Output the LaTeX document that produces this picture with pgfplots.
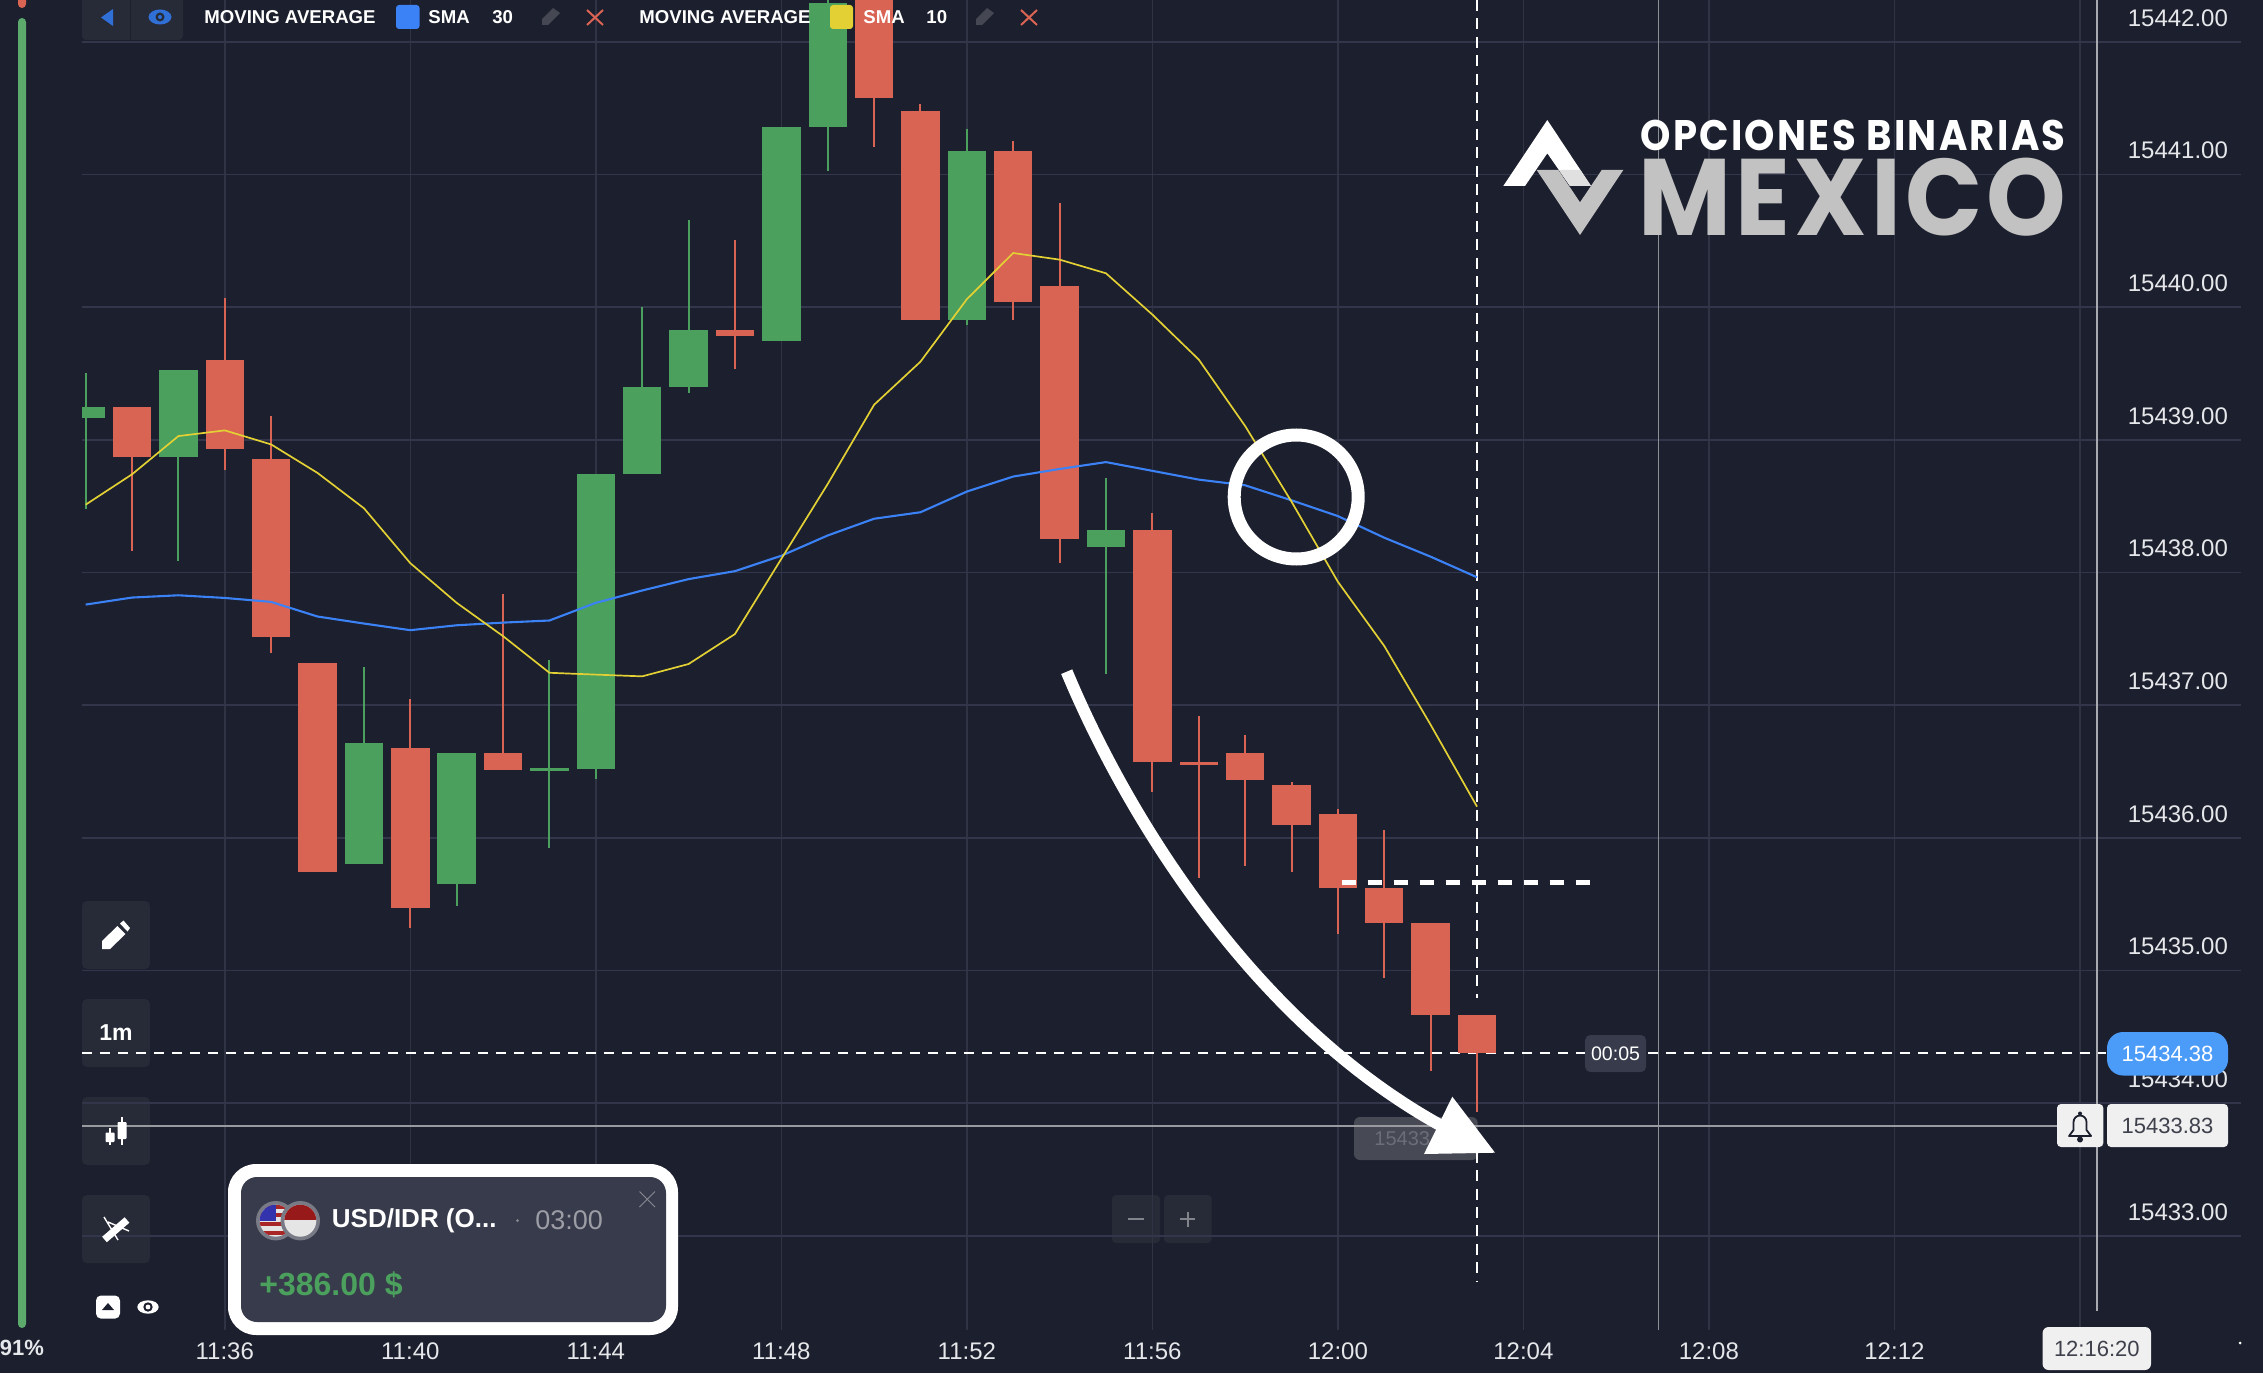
\documentclass[border=0pt]{standalone}
\usepackage{pgfplots}
\pgfplotsset{compat=1.18}
\usepackage{pgfplotstable}
\usepackage{graphicx}
\usepackage{fontspec}
\setmainfont{Liberation Sans}
\newfontfamily\logofont{Poppins}
\definecolor{bg}{HTML}{1C1F2D}
\definecolor{gridh}{HTML}{33364A}
\definecolor{gridv}{HTML}{303344}
\definecolor{btn}{HTML}{272A37}
\definecolor{cred}{HTML}{DA6453}
\definecolor{cgreen}{HTML}{4AA05C}
\definecolor{sblue}{HTML}{3B82F6}
\definecolor{syellow}{HTML}{E2D035}
\definecolor{lblue}{HTML}{4B9BF8}
\definecolor{dblue}{HTML}{2F6FD6}
\definecolor{plate}{HTML}{F0F0F0}
\definecolor{popup}{HTML}{383B4B}
\definecolor{tickc}{HTML}{E6E7EA}
\newcommand{\fs}[1]{\fontsize{#1}{#1}\selectfont}
% columns: minute, body top, body bottom, high, low
\pgfplotstableread{
x top bot high low
694 15439.247 15438.866 15439.247 15438.159
696 15439.605 15438.929 15440.066 15438.769
697 15438.856 15437.509 15439.181 15437.390
698 15437.317 15435.739 15437.317 15435.739
700 15436.678 15435.470 15437.046 15435.316
702 15436.636 15436.508 15437.837 15436.508
707 15439.828 15439.784 15440.507 15439.529
710 15442.600 15441.579 15442.600 15441.207
711 15441.479 15439.900 15441.529 15439.900
713 15441.177 15440.040 15441.250 15439.900
714 15440.156 15438.249 15440.786 15438.066
716 15438.318 15436.570 15438.451 15436.347
717 15436.575 15436.550 15436.918 15435.697
718 15436.636 15436.435 15436.777 15435.789
719 15436.399 15436.097 15436.420 15435.739
720 15436.176 15435.618 15436.219 15435.276
721 15435.618 15435.359 15436.058 15434.942
722 15435.359 15434.666 15435.359 15434.246
723 15434.666 15434.380 15434.666 15433.930
}\redtbl
\pgfplotstableread{
x top bot high low
693 15439.247 15439.161 15439.506 15438.478
695 15439.526 15438.866 15439.526 15438.090
699 15436.718 15435.798 15437.287 15435.798
701 15436.636 15435.651 15436.636 15435.483
703 15436.525 15436.505 15437.340 15435.920
704 15438.740 15436.517 15438.740 15436.439
705 15439.400 15438.740 15440.000 15438.740
706 15439.828 15439.400 15440.657 15439.350
708 15441.357 15439.748 15441.357 15439.748
709 15442.289 15441.357 15442.500 15441.028
712 15441.177 15439.900 15441.340 15439.867
715 15438.318 15438.189 15438.716 15437.231
}\greentbl
\pgfplotstableread{
x y
693 15437.758
694 15437.811
695 15437.828
696 15437.808
697 15437.778
698 15437.668
699 15437.615
700 15437.565
701 15437.602
702 15437.622
703 15437.638
704 15437.771
705 15437.864
706 15437.950
707 15438.010
708 15438.126
709 15438.279
710 15438.405
711 15438.454
712 15438.610
713 15438.723
714 15438.780
715 15438.832
716 15438.766
717 15438.700
718 15438.657
719 15438.544
720 15438.425
721 15438.262
722 15438.119
723 15437.964
}\smathirty
\pgfplotstableread{
x y
693 15438.511
694 15438.740
695 15439.028
696 15439.071
697 15438.965
698 15438.750
699 15438.484
700 15438.070
701 15437.771
702 15437.520
703 15437.244
704 15437.230
705 15437.217
706 15437.310
707 15437.536
708 15438.103
709 15438.667
710 15439.264
711 15439.589
712 15440.060
713 15440.408
714 15440.358
715 15440.255
716 15439.944
717 15439.605
718 15439.104
719 15438.534
720 15437.930
721 15437.446
722 15436.852
723 15436.235
}\smaten
\begin{document}
\begin{tikzpicture}
\path[use as bounding box] (0,0) rectangle (1131.5pt,686.5pt);
\fill[bg] (0,0) rectangle (1131.5pt,686.5pt);
% panels that the grid shows through
\begin{scope}[shift={(0pt,686.5pt)},x=.5pt,y=-.5pt]
\fill[btn,rounded corners=2pt] (82,-6) rectangle (183,40);
\draw[bg,line width=.4pt] (130.5,0) -- (130.5,40);
\foreach \a/\b in {901/969,999/1067,1097/1165,1195/1263}
  \fill[btn,rounded corners=2.5pt] (82,\a) rectangle (150,\b);
\fill[btn,rounded corners=2pt] (1112,1195) rectangle (1160,1243);
\fill[btn,rounded corners=2pt] (1164,1195) rectangle (1211.7,1243);
\fill[btn!85!white,rounded corners=3pt] (1354,1117) rectangle (1477.7,1160);
\end{scope}
\begin{axis}[
  at={(41pt,21.5pt)},anchor=south west,
  scale only axis,width=1079.65pt,height=665pt,
  xmin=692.921,xmax=739.48,ymin=15432.29,ymax=15442.315,
  axis line style={draw=none},major tick length=0pt,
  xtick={696,700,704,708,712,716,720,724,728,732,736},
  xticklabels={11:36,11:40,11:44,11:48,11:52,11:56,12:00,12:04,12:08,12:12,{}},
  ytick={15433,15434,15435,15436,15437,15438,15439,15440,15441,15442},
  yticklabels={15433.00,15434.00,15435.00,15436.00,15437.00,15438.00,15439.00,15440.00,15441.00,15442.00},
  yticklabel pos=right,
  xticklabel style={anchor=center,yshift=-10.5pt,font=\fs{12},text=tickc},
  yticklabel style={anchor=east,inner sep=0pt,xshift=-6.5pt,yshift=12pt,font=\fs{12},text=tickc},
  grid=major,
  x grid style={gridv,line width=.7pt},
  y grid style={gridh,line width=.9pt},
]
% time and price guides
\addplot[white!50!bg,line width=.6pt,forget plot] coordinates {(726.92,15432.29)(726.92,15442.315)};
\addplot[white!62!bg,line width=.9pt,forget plot] coordinates {(736.36,15432.436)(736.36,15442.315)};
\addplot[white!55!bg,line width=.8pt,forget plot] coordinates {(692.921,15433.83)(735.5,15433.83)};
\addplot[white,line width=.9pt,dash pattern=on 5pt off 4pt,forget plot] coordinates {(692.921,15434.38)(736.57,15434.38)};
\addplot[white,line width=1pt,dash pattern=on 5.5pt off 3.7pt,forget plot] coordinates {(723,15442.315)(723,15434.79)};
\addplot[white,line width=1pt,dash pattern=on 5.5pt off 3.7pt,forget plot] coordinates {(723,15433.634)(723,15432.649)};
% candles: wicks, then bodies
\addplot[draw=none,mark=none,forget plot,error bars/.cd,y dir=both,y explicit,error mark=none,error bar style={cgreen,line width=1pt}]
  table[x=x,y=top,y error plus expr=\thisrow{high}-\thisrow{top},y error minus expr=\thisrow{top}-\thisrow{low}] {\greentbl};
\addplot[draw=none,mark=none,forget plot,error bars/.cd,y dir=both,y explicit,error mark=none,error bar style={cred,line width=1pt}]
  table[x=x,y=top,y error plus expr=\thisrow{high}-\thisrow{top},y error minus expr=\thisrow{top}-\thisrow{low}] {\redtbl};
\addplot[draw=none,mark=none,forget plot,error bars/.cd,y dir=minus,y explicit,error mark=none,error bar style={cgreen,line width=19.2pt}]
  table[x=x,y=top,y error minus expr=\thisrow{top}-\thisrow{bot}] {\greentbl};
\addplot[draw=none,mark=none,forget plot,error bars/.cd,y dir=minus,y explicit,error mark=none,error bar style={cred,line width=19.2pt}]
  table[x=x,y=top,y error minus expr=\thisrow{top}-\thisrow{bot}] {\redtbl};
% moving averages
\addplot[sblue,line width=1.05pt,mark=none,forget plot] table[x=x,y=y] {\smathirty};
\addplot[syellow,line width=.85pt,mark=none,forget plot] table[x=x,y=y] {\smaten};
% dashed level
\addplot[white,line width=2.2pt,dash pattern=on 7.2pt off 5.8pt,forget plot] coordinates {(720.08,15435.663)(725.49,15435.663)};
\end{axis}
% interface and annotations, in pixels of the reference
\begin{scope}[shift={(0pt,686.5pt)},x=.5pt,y=-.5pt]
% left bar
\fill[cgreen!90!white,rounded corners=2pt] (18,18) rectangle (26,1328);
\fill[cred,rounded corners=2pt] (18,-6) rectangle (26,8);
\node[font=\fs{11}\bfseries,text=tickc,inner sep=0] at (22,1348) {91\%};
% legend bar
\fill[dblue] (113,9) -- (113,26) -- (101,17.5) -- cycle;
\fill[dblue] (160,17) ellipse (11.5 and 7.5);
\fill[btn] (160,17) circle (4.5);
\fill[dblue] (160,17) circle (2);
\node[font=\fs{9.3}\bfseries,text=white,inner sep=0,anchor=west] at (204,17) {MOVING AVERAGE};
\fill[sblue,rounded corners=1.5pt] (396,5) rectangle (419.5,29);
\node[font=\fs{9.3}\bfseries,text=white,inner sep=0,anchor=west] at (428,17) {SMA};
\node[font=\fs{9.3}\bfseries,text=white,inner sep=0,anchor=west] at (492,17) {30};
\fill[white!18!bg] (542,25) -- (542,19) -- (553,8) -- (560,13) -- (548,25) -- cycle;
\draw[cred,line width=1pt] (587,10) -- (603,25) (603,10) -- (587,25);
\node[font=\fs{9.3}\bfseries,text=white,inner sep=0,anchor=west] at (639,17) {MOVING AVERAGE};
\fill[syellow,rounded corners=1.5pt] (830,5) rectangle (853,29);
\node[font=\fs{9.3}\bfseries,text=white,inner sep=0,anchor=west] at (863,17) {SMA};
\node[font=\fs{9.3}\bfseries,text=white,inner sep=0,anchor=west] at (926,17) {10};
\fill[white!18!bg] (976,25) -- (976,19) -- (987,8) -- (994,13) -- (982,25) -- cycle;
\draw[cred,line width=1pt] (1021,10) -- (1037,25) (1037,10) -- (1021,25);
% logo
\fill[white] (1547.3,120) -- (1591,186) -- (1570,186) -- (1547.3,153.3) -- (1525,186) -- (1503.3,186) -- cycle;
\fill[white!88!black] (1559,170) -- (1580.3,170) -- (1591,186) -- (1570,186) -- cycle;
\fill[white!76!black] (1536.7,170) -- (1558.3,170) -- (1580,202.3) -- (1601.7,170) -- (1623.3,170) -- (1580,235) -- cycle;
\node[inner sep=0,anchor=north west,text=white] at (1640,120) {\resizebox{212.6pt}{15.2pt}{\logofont\bfseries\addfontfeature{LetterSpace=6}OPCIONES BINARIAS}};
\node[inner sep=0,anchor=north west,text=white!76!black] at (1638.5,158) {\resizebox{213.5pt}{38.7pt}{\logofont\bfseries\addfontfeature{LetterSpace=4}MEXICO}};
% tool icons
\fill[white] (102,949) -- (102,941) -- (117.5,926) -- (125.5,934) -- (110,949) -- cycle;
\fill[white] (120,923.5) -- (123.5,920.5) -- (130,928) -- (127.5,931.5) -- cycle;
\node[font=\fs{11.5}\bfseries,text=white,inner sep=0] at (116,1033) {1m};
\fill[white,rounded corners=.4pt] (105.5,1132.5) rectangle (114.5,1142);
\draw[white,line width=.6pt] (110,1128) -- (110,1145);
\fill[white,rounded corners=.4pt] (117.5,1122) rectangle (126.5,1139);
\draw[white,line width=.6pt] (122,1117) -- (122,1145);
\draw[white,line width=3.6pt] (104.5,1239.5) -- (127,1220);
\draw[white,line width=.7pt] (104,1217) -- (118,1240) (108,1222) -- (129,1231);
\fill[white,rounded corners=2.5pt] (96,1295.5) rectangle (120,1318.6);
\fill[bg] (108,1303) -- (114,1310) -- (102,1310) -- cycle;
\fill[white] (148,1307) ellipse (10.7 and 6.7);
\fill[bg] (148,1307) circle (4.7);
\fill[white] (148,1307) circle (2.4);
% zoom buttons
\draw[white!45!bg,line width=1.1pt] (1128,1219) -- (1144,1219) (1180,1219) -- (1195,1219) (1187.8,1211.5) -- (1187.8,1226.5);
% ghost price
\node[font=\fs{10},text=white!35!bg,inner sep=0,anchor=west] at (1374,1139) {15433.83};
% annotations
\draw[white,line width=6.5pt] (1296.2,497) circle (62);
\draw[white,line width=6pt] (1066.7,671.7) .. controls (1130,823.3) and (1256.7,1023.3) .. (1440,1125);
\fill[white] (1452.3,1096.7) -- (1495,1152.7) -- (1424,1154) -- cycle;
% price and time tags
\fill[popup,rounded corners=2.5pt] (1585.2,1035) rectangle (1646,1072);
\node[font=\fs{9.8},text=white,inner sep=0] at (1615.6,1053.5) {00:05};
\fill[lblue,rounded corners=8pt] (2107,1032) rectangle (2228,1075.5);
\node[font=\fs{11},text=white,inner sep=0] at (2167.5,1053.5) {15434.38};
\fill[plate,rounded corners=2pt] (2107,1104) rectangle (2228,1147);
\node[font=\fs{11},text=bg!85!white,inner sep=0] at (2167.5,1126) {15433.83};
\fill[plate,rounded corners=2pt] (2057,1104) rectangle (2103.3,1147);
\draw[bg,line width=.9pt,line join=round] (2069,1136) -- (2073.5,1130) -- (2073.5,1122) arc[start angle=180,end angle=360,radius=6.5] -- (2086.5,1130) -- (2091,1136) -- cycle;
\fill[bg] (2080,1139.5) circle (3);
\fill[bg] (2080,1113.5) circle (2);
\fill[plate,rounded corners=3pt] (2042.6,1327) rectangle (2151,1370);
\node[font=\fs{11},text=bg!85!white,inner sep=0] at (2096.8,1349) {12:16:20};
\fill[white] (2240,1343) circle (1.5);
% result popup
\fill[white,rounded corners=14pt] (228,1164) rectangle (678,1335);
\fill[popup,rounded corners=8pt] (241,1177) rectangle (666,1322);
\fill[white!32!popup] (275.7,1220.7) circle (19.7);
\begin{scope}
\clip (275.7,1220.7) circle (16);
\fill[white!90!black] (255,1200) rectangle (295,1240);
\foreach \s in {1204.5,1213,1222,1231} \fill[red!60!black!85!white] (255,\s) rectangle (295,\s+4);
\fill[blue!60!black!80!white] (255,1200) rectangle (276,1221);
\end{scope}
\fill[white!32!popup] (300.3,1220.7) circle (19.7);
\begin{scope}
\clip (300.3,1220.7) circle (16);
\fill[white!90!black] (280,1200) rectangle (320,1240);
\fill[red!55!black!90!white] (280,1200) rectangle (320,1220);
\end{scope}
\node[font=\fs{13}\bfseries,text=white,inner sep=0,anchor=west] at (331.5,1220.5) {USD/IDR (O...};
\fill[white!40!popup] (517.5,1220.5) circle (1.5);
\node[font=\fs{13.5},text=white!50!popup,inner sep=0,anchor=west] at (535,1220.5) {03:00};
\draw[white!40!popup,line width=.5pt] (639.5,1191.5) -- (655,1207) (655,1191.5) -- (639.5,1207);
\node[font=\fs{16}\bfseries,text=cgreen,inner sep=0,anchor=west] at (259,1284.6) {+386.00 \$};
\end{scope}
\end{tikzpicture}
\end{document}
